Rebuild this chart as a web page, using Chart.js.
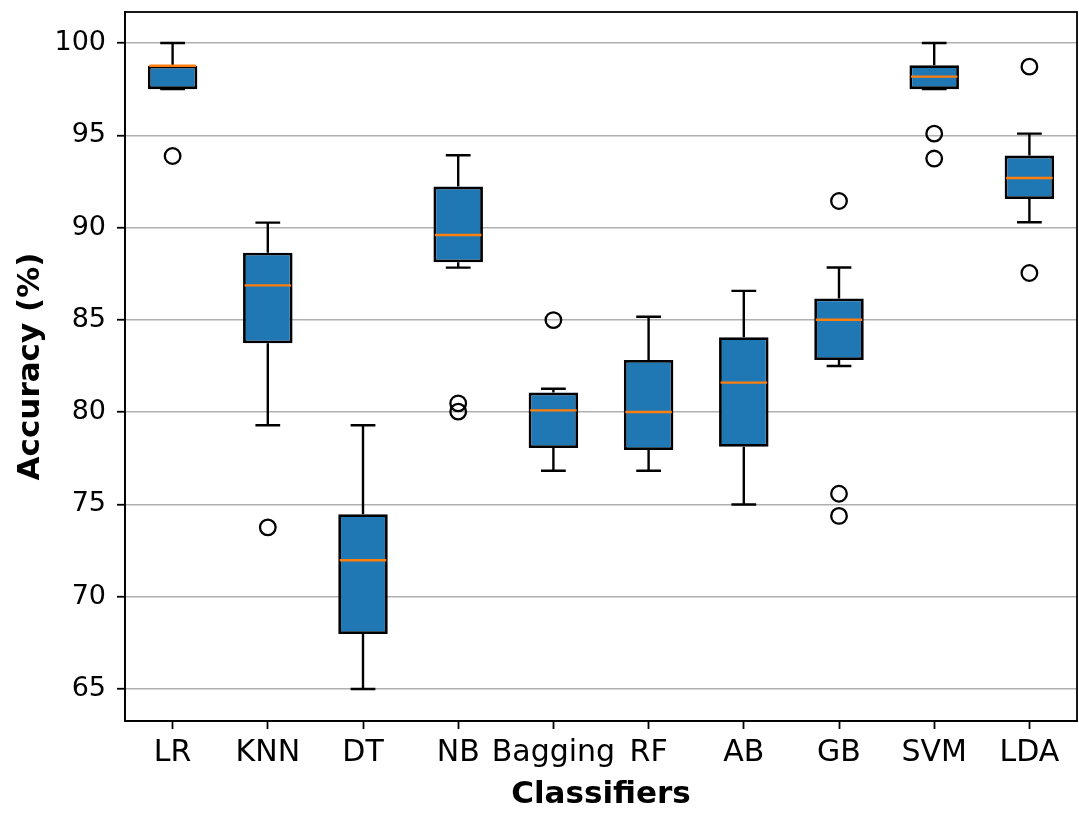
<!DOCTYPE html>
<html>
<head>
<meta charset="utf-8">
<script src="https://cdn.jsdelivr.net/npm/chart.js@4.4.1/dist/chart.umd.min.js"></script>
<style>
	html, body { margin: 0; padding: 0; background: #fff; }
	#wrap { width: 1079px; height: 814px; }
</style>
</head>
<body>
<div id="wrap"><canvas id="chartContainer"></canvas></div>
<script>
var classifiers = ["LR", "KNN", "DT", "NB", "Bagging", "RF", "AB", "GB", "SVM", "LDA"];
var whiskerLow = [97.5, 79.29, 65.0, 87.83, 76.83, 76.83, 75.0, 82.5, 97.5, 90.29];
var q1 = [97.5, 83.73, 67.98, 88.12, 78.06, 77.95, 78.13, 82.83, 97.5, 91.55];
var medians = [98.77, 86.87, 71.98, 89.6, 80.1, 80.01, 81.6, 85.01, 98.18, 92.69];
var q3 = [98.77, 88.64, 74.47, 92.22, 81.06, 82.83, 84.06, 86.16, 98.8, 93.9];
var whiskerHigh = [100, 90.27, 79.29, 93.92, 81.27, 85.17, 86.57, 87.84, 100, 95.09];
var outliers = [[93.88], [73.76], [], [80.48, 80.03], [84.99], [], [], [91.44, 75.58, 74.38], [95.09, 93.74], [98.72, 87.54]];
var yTicks = [65, 70, 75, 80, 85, 90, 95, 100];

var boxRanges = classifiers.map((c, i) => [q1[i], q3[i]]);
var outlierPoints = [];
outliers.forEach((list, i) => {
	list.forEach((v) => outlierPoints.push({ x: classifiers[i], y: v }));
});

// whiskers + caps under the boxes, medians on top, frame around the plot
var boxParts = {
	id: "boxParts",
	beforeDatasetsDraw(chart) {
		var ctx = chart.ctx;
		var xs = chart.scales.x;
		var ys = chart.scales.y;
		var meta = chart.getDatasetMeta(0);
		ctx.save();
		ctx.strokeStyle = "#000";
		ctx.lineWidth = 2.4;
		classifiers.forEach((c, i) => {
			var x = xs.getPixelForValue(i);
			var cap = meta.data[i].width / 4;
			var lo = ys.getPixelForValue(whiskerLow[i]);
			var hi = ys.getPixelForValue(whiskerHigh[i]);
			var b1 = ys.getPixelForValue(q1[i]);
			var b3 = ys.getPixelForValue(q3[i]);
			ctx.beginPath();
			ctx.moveTo(x, lo); ctx.lineTo(x, b1);
			ctx.moveTo(x, b3); ctx.lineTo(x, hi);
			ctx.moveTo(x - cap, lo); ctx.lineTo(x + cap, lo);
			ctx.moveTo(x - cap, hi); ctx.lineTo(x + cap, hi);
			ctx.stroke();
		});
		ctx.restore();
	},
	afterDatasetsDraw(chart) {
		var ctx = chart.ctx;
		var xs = chart.scales.x;
		var ys = chart.scales.y;
		var meta = chart.getDatasetMeta(0);
		ctx.save();
		ctx.strokeStyle = "#ff7f0e";
		ctx.lineWidth = 2.4;
		classifiers.forEach((c, i) => {
			var x = xs.getPixelForValue(i);
			var half = meta.data[i].width / 2 - 1.5;
			var m = ys.getPixelForValue(medians[i]);
			ctx.beginPath();
			ctx.moveTo(x - half, m); ctx.lineTo(x + half, m);
			ctx.stroke();
		});
		var a = chart.chartArea;
		ctx.strokeStyle = "#000";
		ctx.lineWidth = 1.8;
		ctx.strokeRect(a.left, a.top, a.right - a.left, a.bottom - a.top);
		ctx.restore();
	},
};

var chart = new Chart(document.getElementById("chartContainer"), {
	type: "bar",
	data: {
		labels: classifiers,
		datasets: [
			{
				label: "box",
				data: boxRanges,
				backgroundColor: "#1f77b4",
				borderColor: "#000",
				borderWidth: 2.8,
				borderSkipped: false,
				barPercentage: 0.52,
				categoryPercentage: 1,
			},
			{
				type: "scatter",
				label: "outliers",
				data: outlierPoints,
				pointRadius: 7.8,
				pointBorderWidth: 2.3,
				pointBorderColor: "#000",
				pointBackgroundColor: "rgba(0,0,0,0)",
			},
		],
	},
	options: {
		responsive: true,
		maintainAspectRatio: false,
		animation: false,
		layout: { autoPadding: false, padding: { left: 0, right: 2, top: 12, bottom: 0 } },
		plugins: { legend: { display: false }, tooltip: { enabled: false } },
		scales: {
			x: {
				type: "category",
				offset: true,
				afterFit: (s) => { s.height = 93; s.paddingLeft = 0; s.paddingRight = 0; },
				grid: { drawOnChartArea: false, offset: false, tickColor: "#000", tickLength: 8, tickWidth: 1.8 },
				border: { color: "#000", width: 1.8 },
				ticks: { color: "#000", padding: 6, autoSkip: false, maxRotation: 0, minRotation: 0, font: { family: "DejaVu Sans", size: 30 } },
				title: {
					display: true,
					text: "Classifiers",
					color: "#000",
					padding: { top: 0, bottom: 0 },
					font: { family: "DejaVu Sans", size: 31, weight: "bold" },
				},
			},
			y: {
				min: 63.27,
				max: 101.68,
				afterFit: (s) => { s.width = 125; s.paddingTop = 0; s.paddingBottom = 0; },
				afterBuildTicks: (s) => { s.ticks = yTicks.map((v) => ({ value: v })); },
				grid: { color: "#b0b0b0", lineWidth: 1.5, tickColor: "#000", tickLength: 8, tickWidth: 1.8 },
				border: { color: "#000", width: 1.8 },
				ticks: { color: "#000", padding: 11, font: { family: "DejaVu Sans", size: 27 } },
				title: {
					display: true,
					text: "Accuracy (%)",
					color: "#000",
					padding: { top: 12, bottom: 0 },
					font: { family: "DejaVu Sans", size: 31, weight: "bold" },
				},
			},
		},
	},
	plugins: [boxParts],
});
</script>
</body>
</html>
